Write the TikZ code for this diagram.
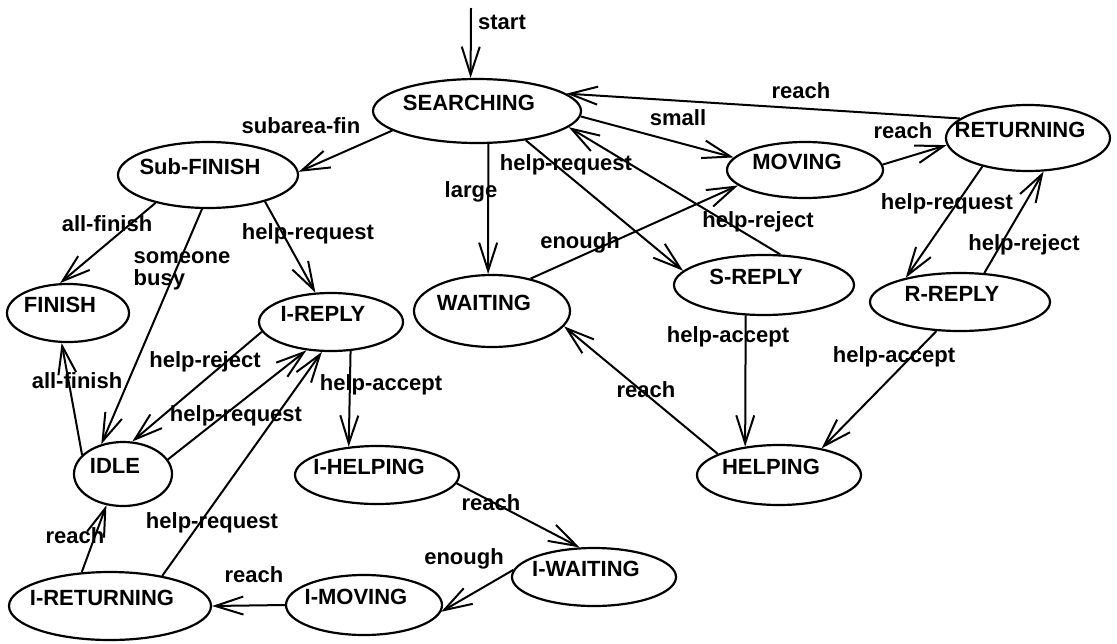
\documentclass[tikz,border=0pt]{standalone}
\usepackage{fontspec}
\setmainfont{Liberation Sans}
\usetikzlibrary{shapes.geometric,arrows.meta}
\tikzset{
  state/.style={ellipse, draw, line width=2.2pt, inner sep=0pt,
    label={[stext]center:#1}},
  stext/.style={font=\bfseries\fontsize{22}{24}\selectfont, inner sep=0pt,
    xshift=-8pt, yshift=8pt},
  lbl/.style={font=\bfseries\fontsize{22}{23}\selectfont, inner sep=0pt,
    text height=16pt, text depth=5pt},
  trans/.style={->, line width=2pt}
}
\begin{document}
\begin{tikzpicture}[x=1pt, y=-1pt, >={Straight Barb[length=28pt,width=18pt]}]
\useasboundingbox (0,0) rectangle (1117,643);
% states
\node[state=SEARCHING, minimum width=208pt, minimum height=64pt] (search) at (477,111) {};
\node[state=Sub-FINISH, minimum width=180pt, minimum height=66pt] (subfin) at (208,175) {};
\node[state=FINISH, minimum width=122pt, minimum height=58pt] (finish) at (68,313) {};
\node[state=I-REPLY, minimum width=144pt, minimum height=58pt] (ireply) at (331,322) {};
\node[state=WAITING, minimum width=156pt, minimum height=72pt] (waiting) at (492,311) {};
\node[state=MOVING, minimum width=156pt, minimum height=56pt] (moving) at (805,170) {};
\node[state=RETURNING, minimum width=164pt, minimum height=66pt] (returning) at (1028,138) {};
\node[state=S-REPLY, minimum width=180pt, minimum height=60pt] (sreply) at (764,285) {};
\node[state=R-REPLY, minimum width=180pt, minimum height=58pt] (rreply) at (960,302) {};
\node[state=HELPING, minimum width=164pt, minimum height=60pt] (helping) at (779,475) {};
\node[state=IDLE, minimum width=98pt, minimum height=64pt] (idle) at (123,474) {};
\node[state=I-HELPING, minimum width=164pt, minimum height=58pt] (ihelping) at (377,475) {};
\node[state=I-WAITING, minimum width=164pt, minimum height=58pt] (iwaiting) at (594,577) {};
\node[state=I-MOVING, minimum width=156pt, minimum height=60pt] (imoving) at (364,605) {};
\node[state=I-RETURNING, minimum width=202pt, minimum height=68pt] (ireturning) at (110,606) {};
\coordinate (startpt) at (471,8);
% transitions
\draw[trans] (startpt) -- (search.101);
\draw[trans] (search.193) -- (subfin.2);
\draw[trans] (search.-71) -- (waiting.96);
\draw[trans] (search.-3) -- (moving.170);
\draw[trans] (search.-31) -- (sreply.170);
\draw[trans] (sreply.62) -- (search.-10);
\draw[trans] (returning.164) -- (search.11);
\draw[trans] (moving.4) -- (returning.185);
\draw[trans] (waiting.40) -- (moving.193);
\draw[trans] (returning.212) -- (rreply.156);
\draw[trans] (rreply.50) -- (returning.-65);
\draw[trans] (sreply.-121) -- (helping.140);
\draw[trans] (rreply.-129) -- (helping.32);
\draw[trans] (helping.161) -- (waiting.-12);
\draw[trans] (subfin.208) -- (finish.105);
\draw[trans] (subfin.-100) -- (idle.126);
\draw[trans] (subfin.-25) -- (ireply.118);
\draw[trans] (idle.155) -- (finish.-102);
\draw[trans] (ireply.188) -- (idle.74);
\draw[trans] (idle.18) -- (ireply.-131);
\draw[trans] (ireturning.30) -- (ireply.-107);
\draw[trans] (ireply.-56) -- (ihelping.135);
\draw[trans] (ireturning.130) -- (idle.-118);
\draw[trans] (ihelping.-6) -- (iwaiting.116);
\draw[trans] (iwaiting.175) -- (imoving.-5);
\draw[trans] (imoving.180) -- (ireturning.0);
% labels
\node[lbl] (lstart) at (502,24) {start};
\node[lbl] (lsubarea) at (301,128) {subarea-fin};
\node[lbl] (llarge) at (471,192) {large};
\node[lbl] (lsmall) at (678,120) {small};
\node[lbl] (lsreq) at (566,165) {help-request};
\node[lbl] (lsrej) at (758,222) {help-reject};
\node[lbl] (lretreach) at (801,93) {reach};
\node[lbl] (lmovreach) at (903,133) {reach};
\node[lbl] (lenough) at (580,243) {enough};
\node[lbl] (lrreq) at (947,204) {help-request};
\node[lbl] (lrrej) at (1024,245) {help-reject};
\node[lbl] (lsacc) at (728,337) {help-accept};
\node[lbl] (lracc) at (894,357) {help-accept};
\node[lbl] (lhelpreach) at (646,392) {reach};
\node[lbl] (lallfin) at (107,226) {all-finish};
\node[lbl, align=left, text height=, text depth=] (lbusy) at (182,271) {someone\\[-1pt]busy};
\node[lbl] (lsubreq) at (308,234) {help-request};
\node[lbl] (lidlefin) at (77,383) {all-finish};
\node[lbl] (lirej) at (205,362) {help-reject};
\node[lbl] (lireq) at (236,416) {help-request};
\node[lbl] (lretreq) at (212,523) {help-request};
\node[lbl] (liacc) at (381,385) {help-accept};
\node[lbl] (lidlereach) at (75,538) {reach};
\node[lbl] (lihreach) at (491,505) {reach};
\node[lbl] (lienough) at (464,559) {enough};
\node[lbl] (limreach) at (254,577) {reach};
\end{tikzpicture}
\end{document}
